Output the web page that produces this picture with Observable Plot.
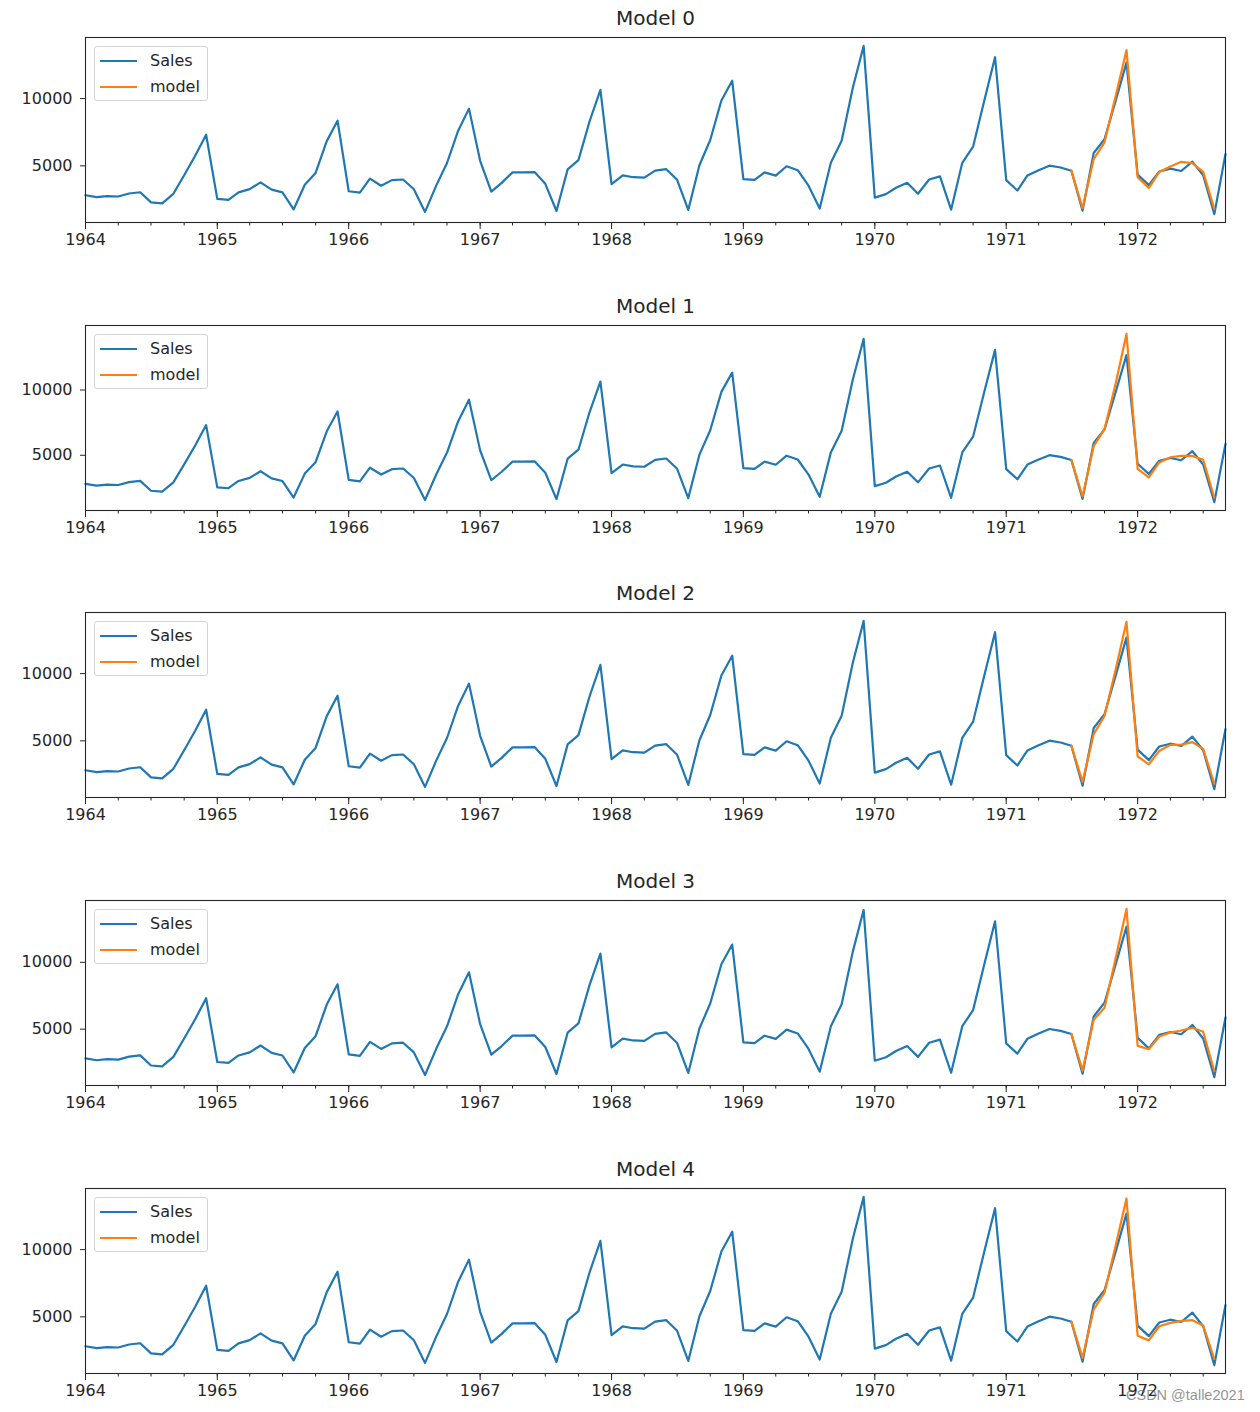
<!DOCTYPE html>
<html><head><meta charset="utf-8">
<script src="https://cdn.jsdelivr.net/npm/d3@7"></script>
<script src="https://cdn.jsdelivr.net/npm/@observablehq/plot@0.6"></script>
<style>
body{margin:0;background:#fff;font-family:"DejaVu Sans",sans-serif;}
#wrap{position:relative;width:1260px;height:1412px;overflow:hidden;}
.panel{position:absolute;left:0;width:1260px;height:288px;}
.legend{position:absolute;left:94px;top:46px;width:112px;height:53px;border:1px solid #d4d4d4;border-radius:3px;background:rgba(255,255,255,0.8);font-size:16px;color:#262626;}
.legend .row{position:absolute;left:0;height:20px;width:112px;}
.legend .sw{position:absolute;left:5px;top:9px;width:37px;height:2.2px;}
.legend .lb{position:absolute;left:55px;top:0;line-height:20px;}
.wm{position:absolute;left:1126px;top:1387px;font-family:"Liberation Sans",sans-serif;font-size:14.5px;color:rgba(110,110,110,0.75);}
</style></head><body><div id="wrap"></div>
<script>
// Monthly sales, 1964-01 .. 1972-09
const sales = [
 2815, 2672, 2755, 2721, 2946, 3036, 2282, 2212, 2922, 4301, 5764, 7312,
 2541, 2475, 3031, 3266, 3776, 3230, 3028, 1759, 3595, 4474, 6838, 8357,
 3113, 3006, 4047, 3523, 3937, 3986, 3260, 1573, 3528, 5211, 7614, 9254,
 5375, 3088, 3718, 4514, 4520, 4539, 3663, 1643, 4739, 5428, 8314, 10651,
 3633, 4292, 4154, 4121, 4647, 4753, 3965, 1723, 5048, 6922, 9858, 11331,
 4016, 3957, 4510, 4276, 4968, 4677, 3523, 1821, 5222, 6872, 10803, 13916,
 2639, 2899, 3370, 3740, 2927, 3986, 4217, 1738, 5221, 6424, 9842, 13076,
 3934, 3162, 4286, 4676, 5010, 4874, 4633, 1659, 5951, 6981, 9851, 12670,
 4348, 3564, 4577, 4788, 4618, 5312, 4298, 1413, 5877
];
const startYear = 1964;
// model values, 1971-07 .. 1972-08
const modelStartIndex = 90;
const model0 = [4640, 1850, 5500, 6750, 10200, 13600, 4150, 3350, 4550, 4950, 5300, 5200, 4550, 1800];
const model1 = [4640, 1850, 5700, 7000, 10500, 14300, 3950, 3300, 4450, 4850, 4950, 4950, 4650, 1750];
const model2 = [4640, 1950, 5500, 6850, 10300, 13850, 3850, 3250, 4250, 4700, 4720, 4900, 4400, 1800];
const model3 = [4640, 1900, 5700, 6600, 10300, 14000, 3750, 3500, 4450, 4750, 4900, 5100, 4800, 1850];
const model4 = [4640, 1950, 5550, 6800, 10300, 13800, 3600, 3250, 4300, 4550, 4700, 4750, 4350, 1850];
const models = [model0, model1, model2, model3, model4];
const titles = ["Model 0", "Model 1", "Model 2", "Model 3", "Model 4"];
const seriesNames = ["Sales", "model"];
const yTicks = [5000, 10000];
const yearTicks = [1964, 1965, 1966, 1967, 1968, 1969, 1970, 1971, 1972];
const panelTops = [0, 288, 575, 863, 1151];
const colors = ["#1f77b4", "#ff7f0e"];

const monthDate = i => new Date(Date.UTC(startYear, i, 1));
const salesData = sales.map((v, i) => ({date: monthDate(i), value: v}));
const xDomain = [monthDate(0), monthDate(sales.length - 1)];
const yearDates = yearTicks.map(y => new Date(Date.UTC(y, 0, 1)));
const quarterDates = d3.utcMonths(xDomain[0], new Date(+xDomain[1] + 86400000), 3);

const wrap = document.getElementById("wrap");
models.forEach((m, k) => {
  const modelData = m.map((v, i) => ({date: monthDate(modelStartIndex + i), value: v}));
  const all = sales.concat(m);
  const lo = d3.min(all), hi = d3.max(all), pad = (hi - lo) * 0.05;
  const chart = Plot.plot({
    width: 1260, height: 288,
    marginLeft: 85, marginRight: 35, marginTop: 37, marginBottom: 66,
    style: {fontFamily: "DejaVu Sans", fontSize: "16px", color: "#262626", background: "transparent", overflow: "visible"},
    x: {type: "utc", domain: xDomain},
    y: {domain: [lo - pad, hi + pad]},
    marks: [
      Plot.axisY({ticks: yTicks, tickSize: 5, tickPadding: 8, label: null, tickFormat: d => String(d)}),
      Plot.axisX({ticks: quarterDates, tickSize: 3.5, tickFormat: () => "", label: null}),
      Plot.axisX({ticks: yearDates, tickSize: 7, tickPadding: 4, tickFormat: d => String(d.getUTCFullYear()), label: null}),
      Plot.lineY(salesData, {x: "date", y: "value", stroke: colors[0], strokeWidth: 2.2}),
      Plot.lineY(modelData, {x: "date", y: "value", stroke: colors[1], strokeWidth: 2.2}),
      Plot.frame({stroke: "#262626", strokeWidth: 1.1}),
      Plot.text([titles[k]], {frameAnchor: "top", lineAnchor: "middle", dy: -19, fontSize: 20, fill: "#262626"})
    ]
  });
  const div = document.createElement("div");
  div.className = "panel";
  div.style.top = panelTops[k] + "px";
  div.appendChild(chart);
  const lg = document.createElement("div");
  lg.className = "legend";
  seriesNames.forEach((n, j) => {
    const row = document.createElement("div");
    row.className = "row";
    row.style.top = (4 + j * 25.5) + "px";
    row.innerHTML = `<div class="sw" style="background:${colors[j]}"></div><div class="lb">${n}</div>`;
    lg.appendChild(row);
  });
  div.appendChild(lg);
  wrap.appendChild(div);
});
const wm = document.createElement("div");
wm.className = "wm";
wm.textContent = "CSDN @talle2021";
wrap.appendChild(wm);
</script>
</body></html>
